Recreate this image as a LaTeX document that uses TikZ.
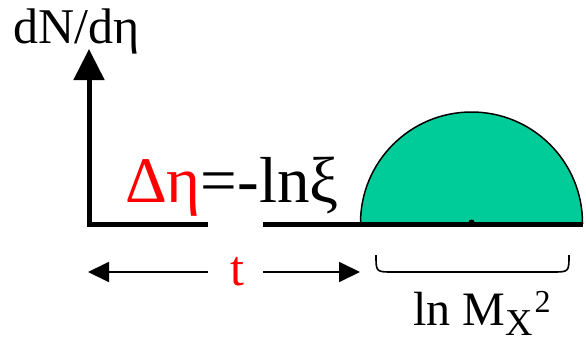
\documentclass[tikz,border=0pt]{standalone}
\usepackage{fontspec}
\setmainfont{Liberation Serif}
\usetikzlibrary{arrows.meta}
\definecolor{hump}{HTML}{00CC99}
\tikzset{
  ttip/.tip={Triangle[length=21pt,width=20pt]},
  atip/.tip={Triangle[length=31pt,width=30pt]}
}
\begin{document}
\begin{tikzpicture}[x=1pt,y=-1pt,
  axisline/.style={line width=5pt, line join=miter},
  tline/.style={line width=1.8pt},
  lbl/.style={inner sep=0pt, anchor=base west},
  bracestyle/.style={line width=1.6pt}
]
\useasboundingbox (0,0) rectangle (586,343);
% coordinates
\coordinate (Ytop) at (89,49);
\coordinate (O) at (89,224);
\coordinate (G1) at (208,224);
\coordinate (G2) at (263,224);
\coordinate (R) at (583,224);
\coordinate (HL) at (360.5,223);
\coordinate (TL) at (88,272);
\coordinate (TLe) at (208,272);
\coordinate (TRs) at (263,272);
\coordinate (TR) at (360,272);
% hump
\draw[fill=hump, line width=1.5pt] (HL) arc[start angle=180, end angle=360, radius=111] -- cycle;
\fill (471.5,222) ellipse[x radius=3, y radius=2.5];
% axes
\draw[axisline, atip-] (Ytop) -- (O) -- (G1);
\draw[axisline] (G2) -- (R);
% t arrows
\draw[tline, ttip-] (TL) -- (TLe);
\draw[tline, -ttip] (TRs) -- (TR);
% brace
\draw[bracestyle] (376,255) .. controls (376,272) .. (393,272) -- (552,272) .. controls (569,272) .. (569,255);
% labels
\node[lbl, font=\fontsize{50}{50}\selectfont] (ylab) at (13,43) {dN/dη};
\node[lbl, font=\fontsize{65}{65}\selectfont] (eq) at (125,202) {\textcolor{red}{Δη}=-lnξ};
\node[lbl, red, font=\fontsize{50}{50}\selectfont] (tlab) at (230,285) {t};
\node[lbl, font=\fontsize{48}{48}\selectfont] (mlab) at (413,325) {ln M\raisebox{-10pt}{\fontsize{38}{38}\selectfont X}\hspace{2pt}\raisebox{13pt}{\fontsize{32}{32}\selectfont 2}};
\end{tikzpicture}
\end{document}
